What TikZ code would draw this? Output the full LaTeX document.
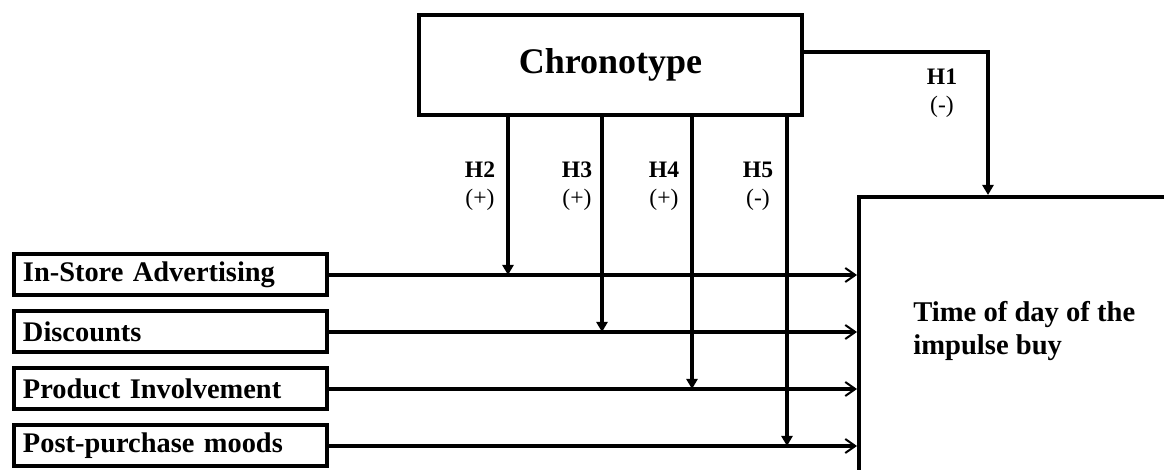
\documentclass[tikz,border=0pt]{standalone}
\usepackage{fontspec}
\setmainfont{Liberation Serif}
\usetikzlibrary{arrows.meta}
\begin{document}
\begin{tikzpicture}[x=0.5pt,y=-0.5pt,
  box/.style={draw, line width=2pt, inner sep=0pt},
  inbox/.style={box, anchor=west, inner xsep=4.5pt, text width=147.5pt, align=left,
     minimum height=20.5pt, font=\fontsize{14.2}{16}\selectfont\bfseries},
  hlab/.style={align=center, font=\fontsize{11.8}{14}\selectfont, inner sep=0pt},
  vtip/.style={line width=2pt, -{Triangle[length=5pt,width=5.5pt]}},
  htip/.style={line width=2pt, -{Straight Barb[length=5pt,width=7pt,line width=1pt]}}]
\clip (0,0) rectangle (1164,470);
\useasboundingbox (0,0) rectangle (1164,470);
\fill[white] (0,0) rectangle (1164,470);
% Chronotype
\node[box, minimum width=191.5pt, minimum height=50pt,
  font=\fontsize{18}{20}\selectfont\bfseries] (chr) at (610.5,65) {Chronotype};
% Outcome box (extends beyond the picture)
\node[box, anchor=north west, minimum width=180pt, minimum height=150pt] (out) at (857,195) {};
\node[anchor=base west, align=left, inner sep=0pt,
  font=\fontsize{14.3}{16.5}\selectfont\bfseries] (outtxt) at (913,355)
  {Time of day of the\\impulse buy};
% Left boxes
\node[inbox] (b1) at (12,275) {In-Store Advertising};
\node[inbox] (b2) at (12,332) {Discounts};
\node[inbox] (b3) at (12,389) {Product Involvement};
\node[inbox] (b4) at (12,446) {Post-purchase moods};
% helper x positions
\coordinate (h1x) at (988,0);
\coordinate (h2x) at (508,0);
\coordinate (h3x) at (602,0);
\coordinate (h4x) at (692,0);
\coordinate (h5x) at (787,0);
% Horizontal arrows
\foreach \b in {b1,b2,b3,b4}
  \draw[htip] (\b.east) -- (\b.east -| out.west);
% Moderating arrows
\draw[vtip] (chr.south -| h2x) -- (h2x |- b1.east);
\draw[vtip] (chr.south -| h3x) -- (h3x |- b2.east);
\draw[vtip] (chr.south -| h4x) -- (h4x |- b3.east);
\draw[vtip] (chr.south -| h5x) -- (h5x |- b4.east);
\draw[vtip] ([yshift=6.5pt]chr.east) -| (h1x |- out.north);
% Labels
\node[hlab] (l1) at (942,93) {\textbf{H1}\\(-)};
\node[hlab] (l2) at (480,186) {\textbf{H2}\\(+)};
\node[hlab] (l3) at (577,186) {\textbf{H3}\\(+)};
\node[hlab] (l4) at (664,186) {\textbf{H4}\\(+)};
\node[hlab] (l5) at (758,186) {\textbf{H5}\\(-)};
\end{tikzpicture}
\end{document}
